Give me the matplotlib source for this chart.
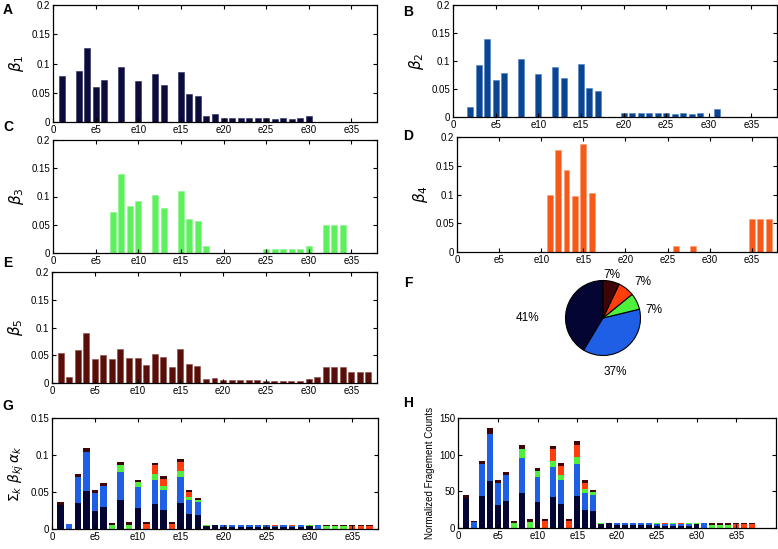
import numpy as np
import matplotlib
matplotlib.use("Agg")
import matplotlib.pyplot as plt

plt.rcParams['font.family'] = ['Liberation Sans', 'DejaVu Sans']
plt.rcParams['mathtext.fontset'] = 'dejavusans'

W, H = 778, 549

elements = list(range(1, 38))
tick_pos = [0, 5, 10, 15, 20, 25, 30, 35]
tick_labels = ["0", "e5", "e10", "e15", "e20", "e25", "e30", "e35"]

beta1 = [0.079, 0, 0.087, 0.126, 0.060, 0.072, 0, 0.094, 0, 0.070,
         0, 0.082, 0.064, 0, 0.086, 0.048, 0.045, 0.011, 0.013, 0.007,
         0.007, 0.007, 0.007, 0.007, 0.006, 0.005, 0.006, 0.005, 0.006, 0.010,
         0, 0, 0, 0, 0, 0, 0]
beta2 = [0, 0.017, 0.093, 0.140, 0.066, 0.079, 0, 0.103, 0, 0.076,
         0, 0.089, 0.070, 0, 0.094, 0.051, 0.047, 0, 0, 0.007,
         0.007, 0.007, 0.007, 0.007, 0.007, 0.005, 0.007, 0.005, 0.007, 0,
         0.014, 0, 0, 0, 0, 0, 0]
beta3 = [0, 0, 0, 0, 0, 0, 0.072, 0.139, 0.083, 0.092,
         0, 0.103, 0.079, 0, 0.110, 0.061, 0.057, 0.013, 0, 0,
         0, 0, 0, 0, 0.007, 0.007, 0.007, 0.007, 0.007, 0.013,
         0, 0.050, 0.050, 0.050, 0, 0, 0]
beta4 = [0, 0, 0, 0, 0, 0, 0, 0, 0, 0,
         0.100, 0.178, 0.143, 0.097, 0.188, 0.102, 0, 0, 0, 0,
         0, 0, 0, 0, 0, 0.011, 0, 0.011, 0, 0,
         0, 0, 0, 0, 0.058, 0.058, 0.058]
beta5 = [0.054, 0.011, 0.059, 0.090, 0.044, 0.050, 0.044, 0.061, 0.045, 0.045,
         0.032, 0.052, 0.047, 0.029, 0.061, 0.034, 0.031, 0.008, 0.009, 0.005,
         0.005, 0.005, 0.005, 0.005, 0.004, 0.004, 0.004, 0.004, 0.004, 0.008,
         0.010, 0.028, 0.028, 0.028, 0.019, 0.019, 0.019]

alpha_pct = [41, 37, 7, 7, 7]
alpha = [0.41, 0.37, 0.07, 0.07, 0.07]

h_totals = [45, 9, 92, 136, 65, 77, 10, 113, 12, 82,
            12, 112, 89, 12, 119, 65, 52, 7, 7, 7,
            7, 7, 7, 7, 7, 7, 7, 7, 7, 7,
            7, 7, 7, 7, 7, 7, 7]

panel_colors = ['#0b0b3c', '#0b4592', '#5cf05c', '#f55a1a', '#5a0e0a']
panel_edges = ['#2a2a5a', '#4a7fc4', '#8af58a', '#fb9a6a', '#8a4a44']
stack_colors = ['#050533', '#1f5fe6', '#4ff03c', '#ff3d0d', '#3d0505']

fig = plt.figure(figsize=(W / 100, H / 100), dpi=100)


def add_ax(x0, y0, x1, y1):
    return fig.add_axes([x0 / W, 1 - y1 / H, (x1 - x0) / W, (y1 - y0) / H])


def style(ax, xmax, yticks, ylabels):
    ax.set_xlim(0, xmax)
    ax.set_xticks(tick_pos)
    ax.set_xticklabels(tick_labels)
    ax.set_yticks(yticks)
    ax.set_yticklabels(ylabels)
    ax.set_ylim(yticks[0], yticks[-1])
    ax.tick_params(direction='in', length=3, width=0.8, top=True, right=True,
                   labelsize=7, pad=2)
    for s in ax.spines.values():
        s.set_linewidth(0.9)


b_ticks = [0, 0.05, 0.1, 0.15, 0.2]
b_labels = ["0", "0.05", "0.1", "0.15", "0.2"]

betas = [beta1, beta2, beta3, beta4, beta5]
rects = [(53, 5, 377, 122), (453, 5, 777, 117), (53, 140, 377, 253),
         (457, 137, 777, 252), (52, 272, 377, 383)]
ylabels = [r'$\beta_{\mathit{1}}$', r'$\beta_2$', r'$\beta_3$', r'$\beta_4$', r'$\beta_5$']

for i in range(5):
    ax = add_ax(*rects[i])
    ax.bar(elements, betas[i], width=0.7, color=panel_colors[i],
           edgecolor=panel_edges[i], linewidth=0.4)
    style(ax, 38, b_ticks, b_labels)
    ax.set_ylabel(ylabels[i], fontsize=11, labelpad=4)

# Pie (F)
cx, cy, r = 603, 318, 37.5
half = 110
axp = add_ax(cx - half, cy - half, cx + half, cy + half)
axp.pie(alpha_pct, colors=stack_colors, startangle=90, counterclock=True,
        radius=1, wedgeprops=dict(edgecolor='black', linewidth=0.8))
lim = half / r
axp.set_xlim(-lim, lim)
axp.set_ylim(-lim, lim)
axp.set_aspect('equal')
axp.axis('off')
label_pos = [(-2.0, 0.0), (0.32, -1.45), (1.36, 0.22), (1.07, 0.96), (0.24, 1.15)]
for (px, py), pct in zip(label_pos, alpha_pct):
    axp.text(px, py, f"{pct}%", ha='center', va='center', fontsize=8.5)

# G stacked
contrib = [[a * b for b in beta] for a, beta in zip(alpha, betas)]
axg = add_ax(52, 418, 378, 529)
bottom = np.zeros(len(elements))
for k in range(5):
    axg.bar(elements, contrib[k], bottom=bottom, width=0.75, color=stack_colors[k],
            linewidth=0)
    bottom = bottom + np.array(contrib[k])
style(axg, 38, [0, 0.05, 0.1, 0.15], ["0", "0.05", "0.1", "0.15"])
axg.set_ylabel(r'$\Sigma_k\ \beta_{kj}\,\alpha_k$', fontsize=10, labelpad=3)

# H stacked
total_c = np.sum(np.array(contrib), axis=0)
axh = add_ax(458, 418, 776, 528)
bottom = np.zeros(len(elements))
for k in range(5):
    seg = np.array(h_totals) * np.array(contrib[k]) / total_c
    axh.bar(elements, seg, bottom=bottom, width=0.75, color=stack_colors[k],
            linewidth=0)
    bottom = bottom + seg
style(axh, 40, [0, 50, 100, 150], ["0", "50", "100", "150"])
axh.set_ylabel('Normalized Fragement Counts', fontsize=7, labelpad=3)

# Panel letters
letters = [("A", 8, 10), ("B", 408, 12), ("C", 8, 127), ("D", 408, 136),
           ("E", 8, 263), ("F", 408, 283), ("G", 8, 406), ("H", 408, 403)]
for t, x, y in letters:
    fig.text(x / W, 1 - y / H, t, fontsize=10, fontweight='bold',
             ha='center', va='center')

fig.savefig('out.png', dpi=100)
